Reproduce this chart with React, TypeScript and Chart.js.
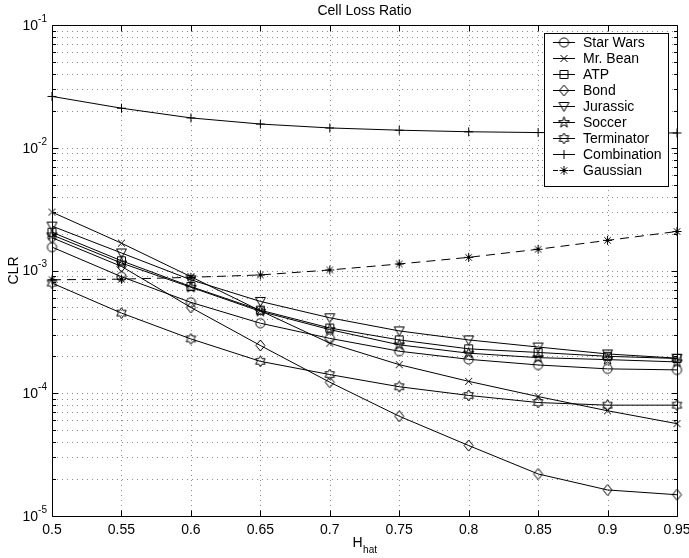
import React, { useEffect, useRef } from 'react';
import { Chart, registerables } from 'chart.js';

Chart.register(...registerables);

// ---- data ----
const H = [0.5, 0.55, 0.6, 0.65, 0.7, 0.75, 0.8, 0.85, 0.9, 0.95];
const starWars = [1.55e-3, 8.9e-4, 5.5e-4, 3.72e-4, 2.8e-4, 2.2e-4, 1.89e-4, 1.7e-4, 1.58e-4, 1.55e-4];
const mrBean = [2.99e-3, 1.67e-3, 8.9e-4, 4.7e-4, 2.56e-4, 1.71e-4, 1.25e-4, 9.4e-5, 7.2e-5, 5.65e-5];
const atp = [2.05e-3, 1.2e-3, 7.4e-4, 4.75e-4, 3.4e-4, 2.72e-4, 2.3e-4, 2.15e-4, 2.0e-4, 1.92e-4];
const bond = [1.85e-3, 1.08e-3, 5.0e-4, 2.45e-4, 1.23e-4, 6.5e-5, 3.75e-5, 2.2e-5, 1.63e-5, 1.49e-5];
const jurassic = [2.3e-3, 1.39e-3, 8.4e-4, 5.6e-4, 4.12e-4, 3.22e-4, 2.72e-4, 2.38e-4, 2.09e-4, 1.93e-4];
const soccer = [1.95e-3, 1.15e-3, 7.3e-4, 4.65e-4, 3.3e-4, 2.48e-4, 2.12e-4, 1.95e-4, 1.88e-4, 1.8e-4];
const terminator = [7.9e-4, 4.5e-4, 2.77e-4, 1.82e-4, 1.42e-4, 1.13e-4, 9.6e-5, 8.4e-5, 8.0e-5, 8.0e-5];
const combination = [2.62e-2, 2.1e-2, 1.75e-2, 1.56e-2, 1.45e-2, 1.39e-2, 1.35e-2, 1.33e-2, 1.32e-2, 1.32e-2];
const gaussian = [8.4e-4, 8.5e-4, 8.8e-4, 9.2e-4, 1.01e-3, 1.13e-3, 1.28e-3, 1.49e-3, 1.76e-3, 2.08e-3];

const seriesNames = ['Star Wars', 'Mr. Bean', 'ATP', 'Bond', 'Jurassic', 'Soccer', 'Terminator', 'Combination', 'Gaussian'];
const seriesValues = [starWars, mrBean, atp, bond, jurassic, soccer, terminator, combination, gaussian];
const seriesMarkers = ['o', 'x', 's', 'd', 'v', 'p', 'h', '+', '*'];
const seriesDashed = [false, false, false, false, false, false, false, false, true];

const xTicks = [0.5, 0.55, 0.6, 0.65, 0.7, 0.75, 0.8, 0.85, 0.9, 0.95];
const xTickLabels = ['0.5', '0.55', '0.6', '0.65', '0.7', '0.75', '0.8', '0.85', '0.9', '0.95'];
const yExponents = [-5, -4, -3, -2, -1];

const titleText = 'Cell Loss Ratio';
const yTitle = 'CLR';
const xTitleMain = 'H';
const xTitleSub = 'hat';

const FONT = '"Liberation Sans", Arial, Helvetica, sans-serif';

function makeMarker(kind: string): HTMLCanvasElement {
  const c = document.createElement('canvas');
  c.width = 15;
  c.height = 15;
  const g = c.getContext('2d')!;
  g.strokeStyle = '#000';
  g.lineWidth = 1;
  const cx = 7.5, cy = 7.5;
  g.beginPath();
  switch (kind) {
    case 'o':
      g.arc(cx, cy, 4.6, 0, Math.PI * 2);
      break;
    case 'x':
      g.moveTo(cx - 3.5, cy - 3.5); g.lineTo(cx + 3.5, cy + 3.5);
      g.moveTo(cx + 3.5, cy - 3.5); g.lineTo(cx - 3.5, cy + 3.5);
      break;
    case 's':
      g.rect(cx - 4, cy - 4, 8, 8);
      break;
    case 'd':
      g.moveTo(cx, cy - 5.5); g.lineTo(cx + 4.5, cy); g.lineTo(cx, cy + 5.5); g.lineTo(cx - 4.5, cy); g.closePath();
      break;
    case 'v':
      g.moveTo(cx - 5, cy - 4); g.lineTo(cx + 5, cy - 4); g.lineTo(cx, cy + 5); g.closePath();
      break;
    case 'p': {
      const R = 5.8, r = R * 0.382;
      for (let i = 0; i < 10; i++) {
        const a = -Math.PI / 2 + (i * Math.PI) / 5;
        const rr = i % 2 === 0 ? R : r;
        const px = cx + rr * Math.cos(a), py = cy + rr * Math.sin(a);
        if (i === 0) g.moveTo(px, py); else g.lineTo(px, py);
      }
      g.closePath();
      break;
    }
    case 'h': {
      const R = 5.5, r = R / Math.sqrt(3);
      for (let i = 0; i < 12; i++) {
        const a = -Math.PI / 2 + (i * Math.PI) / 6;
        const rr = i % 2 === 0 ? R : r;
        const px = cx + rr * Math.cos(a), py = cy + rr * Math.sin(a);
        if (i === 0) g.moveTo(px, py); else g.lineTo(px, py);
      }
      g.closePath();
      break;
    }
    case '+':
      g.moveTo(cx - 4.5, cy); g.lineTo(cx + 4.5, cy);
      g.moveTo(cx, cy - 4.5); g.lineTo(cx, cy + 4.5);
      break;
    case '*':
      g.moveTo(cx - 4.5, cy); g.lineTo(cx + 4.5, cy);
      g.moveTo(cx, cy - 4.5); g.lineTo(cx, cy + 4.5);
      g.moveTo(cx - 3.2, cy - 3.2); g.lineTo(cx + 3.2, cy + 3.2);
      g.moveTo(cx + 3.2, cy - 3.2); g.lineTo(cx - 3.2, cy + 3.2);
      break;
  }
  g.stroke();
  return c;
}

export default function App() {
  const ref = useRef<HTMLCanvasElement>(null);

  useEffect(() => {
    const canvas = ref.current!;
    const markerCanvases = seriesMarkers.map(makeMarker);

    const matlabPlugin = {
      id: 'matlabAxes',
      beforeDatasetsDraw(chart: any) {
        const ctx = chart.ctx as CanvasRenderingContext2D;
        const { left, right, top, bottom } = chart.chartArea;
        const xs = chart.scales.x;
        const ys = chart.scales.y;
        ctx.save();
        ctx.strokeStyle = '#8c8c8c';
        ctx.lineWidth = 1;
        ctx.setLineDash([1, 4]);
        // vertical grid
        xTicks.forEach((v) => {
          const px = Math.round(xs.getPixelForValue(v)) + 0.5;
          if (px <= left + 1 || px >= right - 1) return;
          ctx.beginPath();
          ctx.moveTo(px, top);
          ctx.lineTo(px, bottom);
          ctx.stroke();
        });
        // horizontal grid (log, 1..9 x 10^n)
        for (let e = -5; e <= -2; e++) {
          for (let m = 1; m <= 9; m++) {
            const v = m * Math.pow(10, e);
            if (v <= 1e-5 * 1.0001 || v >= 1e-1 * 0.9999) continue;
            const py = Math.round(ys.getPixelForValue(v)) + 0.5;
            ctx.beginPath();
            ctx.moveTo(left, py);
            ctx.lineTo(right, py);
            ctx.stroke();
          }
        }
        ctx.restore();
      },
      afterDatasetsDraw(chart: any) {
        const ctx = chart.ctx as CanvasRenderingContext2D;
        const { left, right, top, bottom } = chart.chartArea;
        const xs = chart.scales.x;
        const ys = chart.scales.y;
        ctx.save();
        ctx.setLineDash([]);
        ctx.strokeStyle = '#000';
        ctx.lineWidth = 1;
        const L = Math.round(left) + 0.5, R = Math.round(right) + 0.5;
        const T = Math.round(top) + 0.5, B = Math.round(bottom) + 0.5;
        ctx.beginPath();
        ctx.rect(L, T, R - L, B - T);
        ctx.stroke();
        // x ticks (inward, top and bottom)
        ctx.beginPath();
        xTicks.forEach((v) => {
          const px = Math.round(xs.getPixelForValue(v)) + 0.5;
          ctx.moveTo(px, B); ctx.lineTo(px, B - 6);
          ctx.moveTo(px, T); ctx.lineTo(px, T + 6);
        });
        // y ticks (major + minor)
        for (let e = -5; e <= -1; e++) {
          for (let m = 1; m <= 9; m++) {
            const v = m * Math.pow(10, e);
            if (v > 1e-1 * 1.0001) continue;
            const py = Math.round(ys.getPixelForValue(v)) + 0.5;
            const len = m === 1 ? 6 : 3.5;
            ctx.moveTo(L, py); ctx.lineTo(L + len, py);
            ctx.moveTo(R, py); ctx.lineTo(R - len, py);
          }
        }
        ctx.stroke();

        ctx.fillStyle = '#000';
        // x tick labels
        ctx.font = `14px ${FONT}`;
        ctx.textAlign = 'center';
        ctx.textBaseline = 'middle';
        xTicks.forEach((v, i) => {
          ctx.fillText(xTickLabels[i], xs.getPixelForValue(v), bottom + 14);
        });
        // y tick labels 10^e
        yExponents.forEach((e) => {
          const py = ys.getPixelForValue(Math.pow(10, e));
          const sup = '-' + Math.abs(e);
          ctx.font = `10px ${FONT}`;
          const wSup = ctx.measureText(sup).width;
          ctx.font = `14px ${FONT}`;
          const wBase = ctx.measureText('10').width;
          const xEnd = left - 5;
          ctx.textAlign = 'left';
          ctx.textBaseline = 'middle';
          ctx.fillText('10', xEnd - wSup - wBase, py + 1);
          ctx.font = `10px ${FONT}`;
          ctx.fillText(sup, xEnd - wSup, py - 6);
        });
        // title
        ctx.font = `14px ${FONT}`;
        ctx.textAlign = 'center';
        ctx.textBaseline = 'middle';
        ctx.fillText(titleText, (left + right) / 2, 11);
        // x title with subscript
        ctx.font = `14px ${FONT}`;
        const wH = ctx.measureText(xTitleMain).width;
        ctx.font = `10px ${FONT}`;
        const wS = ctx.measureText(xTitleSub).width;
        const x0 = (left + right) / 2 - (wH + wS) / 2;
        ctx.textAlign = 'left';
        ctx.textBaseline = 'alphabetic';
        ctx.font = `14px ${FONT}`;
        ctx.fillText(xTitleMain, x0, bottom + 31);
        ctx.font = `10px ${FONT}`;
        ctx.fillText(xTitleSub, x0 + wH + 0.5, bottom + 37);
        // y title
        ctx.save();
        ctx.translate(14, (top + bottom) / 2);
        ctx.rotate(-Math.PI / 2);
        ctx.font = `14px ${FONT}`;
        ctx.textAlign = 'center';
        ctx.textBaseline = 'middle';
        ctx.fillText(yTitle, 0, 0);
        ctx.restore();

        // legend
        const lx0 = 544, ly0 = 33, lw = 124, lh = 153;
        ctx.fillStyle = '#fff';
        ctx.fillRect(lx0, ly0, lw, lh);
        ctx.strokeStyle = '#000';
        ctx.lineWidth = 1;
        ctx.strokeRect(lx0 + 0.5, ly0 + 0.5, lw, lh);
        seriesNames.forEach((name, i) => {
          const cy = 41.7 + 16.04 * i;
          const yy = Math.round(cy) + 0.5;
          ctx.setLineDash(seriesDashed[i] ? [5, 3] : []);
          ctx.beginPath();
          ctx.moveTo(553, yy);
          ctx.lineTo(575, yy);
          ctx.stroke();
          ctx.setLineDash([]);
          const mc = markerCanvases[i];
          ctx.drawImage(mc, 564 - mc.width / 2, yy - mc.height / 2);
          ctx.fillStyle = '#000';
          ctx.font = `14px ${FONT}`;
          ctx.textAlign = 'left';
          ctx.textBaseline = 'middle';
          ctx.fillText(name, 583, cy + 1);
        });
        ctx.restore();
      },
    };

    const chart = new Chart(canvas, {
      type: 'line',
      data: {
        datasets: seriesNames.map((name, i) => ({
          label: name,
          data: H.map((x, j) => ({ x, y: seriesValues[i][j] })),
          borderColor: '#000',
          backgroundColor: 'rgba(0,0,0,0)',
          borderWidth: 1,
          borderDash: seriesDashed[i] ? [9, 6] : [],
          pointStyle: markerCanvases[i] as any,
          pointRadius: 5,
          tension: 0,
          fill: false,
          clip: false as any,
        })),
      },
      options: {
        responsive: false,
        animation: false,
        devicePixelRatio: 1,
        events: [],
        layout: { padding: { left: 52, right: 12, top: 25, bottom: 42 } },
        scales: {
          x: { type: 'linear', min: 0.5, max: 0.95, display: false },
          y: { type: 'logarithmic', min: 1e-5, max: 1e-1, display: false },
        },
        plugins: {
          legend: { display: false },
          tooltip: { enabled: false },
          title: { display: false },
        },
      },
      plugins: [matlabPlugin],
    });
    return () => chart.destroy();
  }, []);

  return (
    <div style={{ position: 'fixed', left: 0, top: 0, width: 689, height: 558, background: '#fff' }}>
      <canvas ref={ref} width={689} height={558} style={{ display: 'block' }} />
    </div>
  );
}
